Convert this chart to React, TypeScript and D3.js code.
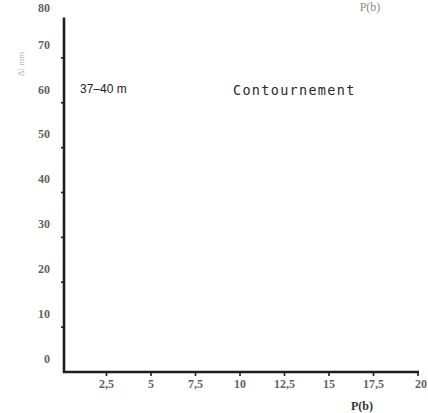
import React from "react";
import * as d3 from "d3";

const xTicks = [2.5, 5, 7.5, 10, 12.5, 15, 17.5, 20];
const xTickLabels = ["2,5", "5", "7,5", "10", "12,5", "15", "17,5", "20"];
const yTicks = [0, 10, 20, 30, 40, 50, 60, 70, 80];
const yTickLabels = ["0", "10", "20", "30", "40", "50", "60", "70", "80"];
const xDomain = [0, 20];
const yDomain = [0, 80];
const annotations = ["37–40 m", "Contournement"];
const xTitle = "P(b)";
const yTitle = "Δl mm";

export default function App() {
  const W = 428, H = 413;
  const x = d3.scaleLinear().domain(xDomain).range([62, 418]);
  const y = d3.scaleLinear().domain(yDomain).range([372, 13]);
  const axisColor = "#1e1e1e";
  const labelFont = "'Liberation Serif', serif";
  return (
    <svg
      width={W}
      height={H}
      style={{ position: "absolute", left: 0, top: 0, background: "#fff" }}
    >
      {/* y axis */}
      <line x1={64} x2={64} y1={y(79)} y2={y(0) + 1} stroke={axisColor} strokeWidth={2.6} />
      {/* x axis */}
      <line x1={63} x2={x(20) + 1} y1={y(0)} y2={y(0)} stroke={axisColor} strokeWidth={2.4} />
      {yTicks.map((t, i) => (
        <g key={"yt" + i}>
          {t > 0 && t < 80 && (
            <line x1={61} x2={64} y1={y(t)} y2={y(t)} stroke={axisColor} strokeWidth={1.6} />
          )}
          <text
            x={50}
            y={Math.max(y(t) - 12, 9)}
            textAnchor="end"
            dominantBaseline="middle"
            fontFamily={labelFont}
            fontSize={12}
            fontWeight="bold"
            fill="#3a3a3a"
            opacity={0.8}
          >
            {yTickLabels[i]}
          </text>
        </g>
      ))}
      {xTicks.map((t, i) => (
        <g key={"xt" + i}>
          <line x1={x(t)} x2={x(t)} y1={y(0)} y2={y(0) + 4} stroke={axisColor} strokeWidth={1.6} />
          <text
            x={x(t) + (i === xTicks.length - 1 ? 3 : 0)}
            y={y(0) + 16}
            textAnchor="middle"
            fontFamily={labelFont}
            fontSize={12}
            fontWeight="bold"
            fill="#3a3a3a"
            opacity={0.8}
          >
            {xTickLabels[i]}
          </text>
        </g>
      ))}
      <text x={362} y={y(0) + 38} textAnchor="middle" fontFamily={labelFont} fontSize={12} fontWeight="bold" fill="#333">
        {xTitle}
      </text>
      <text x={370} y={11} textAnchor="middle" fontFamily={labelFont} fontSize={12} fill="#555" opacity={0.7}>
        {xTitle}
      </text>
      <text
        transform="translate(24,64) rotate(-90)"
        textAnchor="middle"
        fontFamily={labelFont}
        fontSize={9}
        fill="#999"
        opacity={0.7}
      >
        {yTitle}
      </text>
      <text x={80} y={90} dominantBaseline="middle" fontFamily="'Liberation Sans', sans-serif" fontSize={12} fill="#222">
        {annotations[0]}
      </text>
      <text
        x={233}
        y={91}
        dominantBaseline="middle"
        fontFamily="'DejaVu Sans Mono', monospace"
        fontSize={13.5}
        letterSpacing={1.3}
        fill="#2a2a2a"
      >
        {annotations[1]}
      </text>
    </svg>
  );
}
